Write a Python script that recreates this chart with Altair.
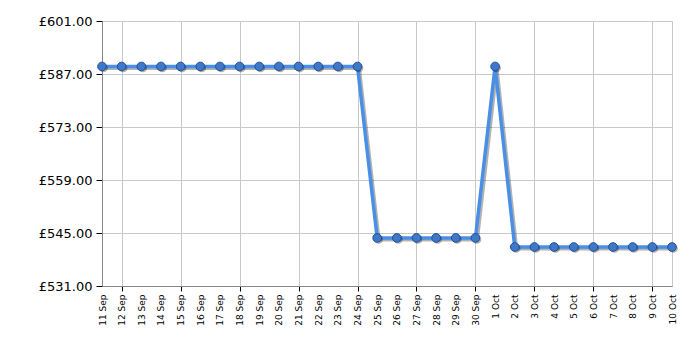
import altair as alt
import pandas as pd

labels = ["11 Sep", "12 Sep", "13 Sep", "14 Sep", "15 Sep", "16 Sep", "17 Sep", "18 Sep",
          "19 Sep", "20 Sep", "21 Sep", "22 Sep", "23 Sep", "24 Sep", "25 Sep", "26 Sep",
          "27 Sep", "28 Sep", "29 Sep", "30 Sep", "1 Oct", "2 Oct", "3 Oct", "4 Oct",
          "5 Oct", "6 Oct", "7 Oct", "8 Oct", "9 Oct", "10 Oct"]
prices = [588.99] * 14 + [543.70] * 6 + [588.99] + [541.30] * 9
y_ticks = [531, 545, 559, 573, 587, 601]
grid_labels = labels[1::3]

df = pd.DataFrame({"label": labels, "price": prices})

grid_test = "indexof([" + ",".join("'%s'" % g for g in grid_labels) + "], datum.value) >= 0"

x_enc = alt.X(
    "label:O", sort=None,
    scale=alt.Scale(type="point", padding=0),
    axis=alt.Axis(
        title=None, labelAngle=270, labelAlign="right", labelBaseline="middle",
        labelFont="DejaVu Sans", labelFontSize=9, labelColor="#000", labelPadding=3,
        grid=True, gridColor="#c8c8c8", gridWidth=1,
        gridOpacity=alt.condition(grid_test, alt.value(1), alt.value(0)),
        tickOpacity=alt.condition(grid_test, alt.value(1), alt.value(0)),
        tickColor="#000", tickSize=5, domainColor="#888", labelOverlap=False,
    ),
)
y_enc = alt.Y(
    "price:Q",
    scale=alt.Scale(domain=[531, 601], nice=False, zero=False),
    axis=alt.Axis(
        title=None, values=y_ticks, labelExpr="'£' + format(datum.value, '.2f')",
        labelFont="DejaVu Sans", labelFontSize=13, labelColor="#000", labelPadding=4,
        grid=True, gridColor="#c8c8c8", tickColor="#000", tickSize=6, domainColor="#888",
    ),
)

base = alt.Chart(df).encode(x=x_enc, y=y_enc)

shadow = base.mark_line(color="#000", opacity=0.3, strokeWidth=3, xOffset=2, yOffset=2)
line = base.mark_line(color="#4a8fe6", strokeWidth=3.5)
pshadow = base.mark_circle(size=75, color="#000", opacity=0.3, xOffset=1.5, yOffset=1.5)
points = base.mark_point(size=75, filled=True, fill="#3f78c8", stroke="#1f4f94",
                         strokeWidth=1, opacity=1)

chart = alt.layer(shadow, line, pshadow, points).properties(
    width=570, height=265,
    autosize=alt.AutoSizeParams(type="none"),
    padding={"left": 102, "top": 21, "right": 28, "bottom": 64},
).configure_view(stroke="#c8c8c8", strokeWidth=1)

chart.save("out.html", embed_options={"renderer": "svg", "actions": False})
